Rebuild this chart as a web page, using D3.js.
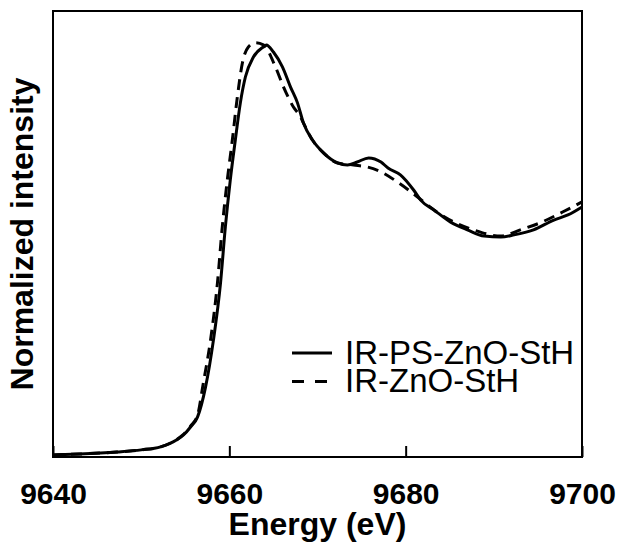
<!DOCTYPE html>
<html>
<head>
<meta charset="utf-8">
<script src="https://cdn.jsdelivr.net/npm/d3@7"></script>
<style>
    body { margin: 0; background: #ffffff; }
    svg { display: block; font-family: Arial, "Liberation Sans", sans-serif; }
</style>
</head>
<body>
<svg width="618" height="542"></svg>
<script>
// DATA (energy in eV, normalized intensity)
var energy_ps = [9640, 9643, 9647.3, 9650, 9652.2, 9654, 9654.8, 9655.6, 9656.4, 9657.3, 9658.2, 9659.0, 9659.55, 9660.11,
    9660.68, 9661.25, 9661.82, 9662.73, 9663.86, 9664.2, 9665.0, 9666.02, 9666.93, 9667.73, 9668.41, 9669.43, 9670.68,
    9672.27, 9673.4, 9674.5, 9675.8, 9677.2, 9678.0, 9679.4, 9680.9, 9681.7, 9683.2, 9685.1, 9687.0, 9688.9, 9690.8,
    9692.3, 9694.5, 9696.8, 9698.4, 9700];
var intensity_ps = [0.007, 0.010, 0.017, 0.024, 0.034, 0.057, 0.074, 0.101, 0.135, 0.235, 0.394, 0.585, 0.774, 0.932,
    1.066, 1.191, 1.278, 1.345, 1.379, 1.386, 1.362, 1.312, 1.245, 1.191, 1.123, 1.066, 1.023,
    0.989, 0.982, 0.992, 1.006, 0.992, 0.972, 0.949, 0.898, 0.864, 0.831, 0.790, 0.764, 0.743, 0.740,
    0.747, 0.764, 0.797, 0.814, 0.841];

var energy_zno = [9640, 9643, 9647.3, 9650, 9652.2, 9654, 9654.8, 9655.6, 9656.4, 9657.0, 9657.9, 9658.65, 9659.2, 9659.77,
    9660.34, 9660.91, 9661.48, 9662.16, 9662.95, 9663.86, 9665.23, 9666.14, 9667.27, 9668.07, 9668.41, 9669.43, 9670.68,
    9672.27, 9674.1, 9675.7, 9677.2, 9679.2, 9681.5, 9683.2, 9685.5, 9687.7, 9690.8, 9693.0, 9695.2, 9697.8, 9700];
var intensity_zno = [0.007, 0.010, 0.017, 0.024, 0.034, 0.058, 0.076, 0.104, 0.141, 0.240, 0.400, 0.585, 0.774, 0.932,
    1.066, 1.211, 1.325, 1.379, 1.393, 1.386, 1.312, 1.245, 1.177, 1.144, 1.123, 1.066, 1.023,
    0.989, 0.982, 0.975, 0.959, 0.922, 0.871, 0.831, 0.790, 0.764, 0.743, 0.764, 0.787, 0.824, 0.858];

var x_ticks = [9640, 9660, 9680, 9700];
var series_names = ["IR-PS-ZnO-StH", "IR-ZnO-StH"];

// SETUP
var svg = d3.select("svg"),
    margin = { top: 11, right: 36, bottom: 85, left: 53 },
    width = 618 - margin.left - margin.right,
    height = 542 - margin.top - margin.bottom;

var x = d3.scaleLinear().domain([9640, 9700]).range([margin.left, margin.left + width]);
var y = d3.scaleLinear().domain([0, 1.5]).range([margin.top + height, margin.top]);

var line = d3.line()
    .x(function (d) { return x(d[0]); })
    .y(function (d) { return y(d[1]); })
    .curve(d3.curveMonotoneX);

var data_ps = energy_ps.map(function (e, i) { return [e, intensity_ps[i]]; });
var data_zno = energy_zno.map(function (e, i) { return [e, intensity_zno[i]]; });

// CURVES
svg.append("path")
    .datum(data_zno)
    .attr("d", line)
    .attr("fill", "none")
    .attr("stroke", "#000")
    .attr("stroke-width", 3)
    .attr("stroke-dasharray", "11,7");

svg.append("path")
    .datum(data_ps)
    .attr("d", line)
    .attr("fill", "none")
    .attr("stroke", "#000")
    .attr("stroke-width", 3);

// AXIS (ticks point inward, no y ticks)
var xAxis = svg.append("g")
    .attr("transform", "translate(0," + (margin.top + height) + ")")
    .call(d3.axisBottom(x).tickValues(x_ticks).tickSizeInner(-11).tickSizeOuter(0).tickPadding(26).tickFormat(d3.format("d")));
xAxis.select(".domain").remove();
xAxis.selectAll("line").attr("stroke", "#000").attr("stroke-width", 2);
xAxis.selectAll("text")
    .attr("font-size", "30px")
    .attr("font-weight", "bold")
    .attr("font-family", "Arial, 'Liberation Sans', sans-serif")
    .attr("fill", "#000");

// frame
svg.append("rect")
    .attr("x", margin.left)
    .attr("y", margin.top)
    .attr("width", width)
    .attr("height", height)
    .attr("fill", "none")
    .attr("stroke", "#000")
    .attr("stroke-width", 2);

// AXIS TITLES
svg.append("text")
    .attr("x", margin.left + width / 2)
    .attr("y", 535)
    .attr("text-anchor", "middle")
    .attr("font-size", "32px")
    .attr("font-weight", "bold")
    .text("Energy (eV)");

svg.append("text")
    .attr("transform", "translate(33," + (margin.top + height / 2) + ") rotate(-90)")
    .attr("text-anchor", "middle")
    .attr("font-size", "32px")
    .attr("font-weight", "bold")
    .text("Normalized intensity");

// LEGEND
var legend = svg.append("g");
var legend_dash = [null, "12,11"];
series_names.forEach(function (name, i) {
    var ly = 353 + i * 28.5;
    legend.append("line")
        .attr("x1", 292).attr("x2", 332)
        .attr("y1", ly).attr("y2", ly)
        .attr("stroke", "#000")
        .attr("stroke-width", 3)
        .attr("stroke-dasharray", legend_dash[i]);
    legend.append("text")
        .attr("x", 345)
        .attr("y", ly + 10.5)
        .attr("font-size", "33px")
        .text(name);
});
</script>
</body>
</html>
